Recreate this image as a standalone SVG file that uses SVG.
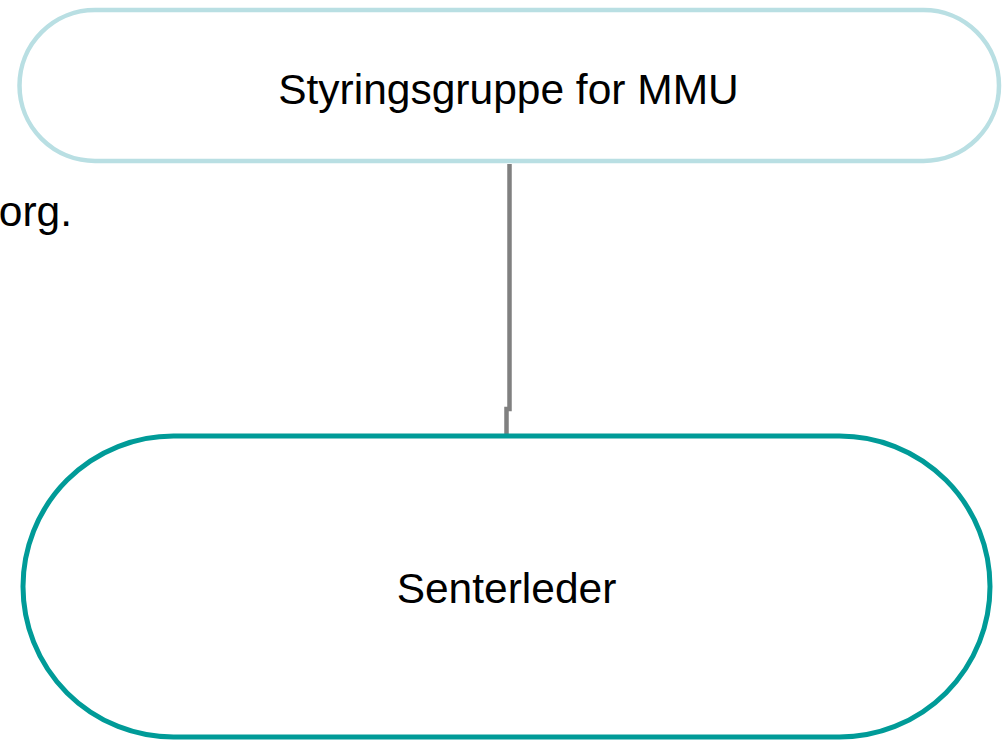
<svg xmlns="http://www.w3.org/2000/svg" width="1003" height="740" viewBox="0 0 1003 740">
<style>
.lbl{font-family:"Liberation Sans",Arial,sans-serif;font-size:42.5px;fill:#000}
.node{fill:#fff}
</style>
<rect width="1003" height="740" fill="#fff"/>
<text class="lbl" x="72" y="226" text-anchor="end">org.</text>
<g id="connectors">
<path d="M509.5,164 V409 H506.5 V436" fill="none" stroke="#808080" stroke-width="4.5"/>
</g>
<g id="node-styringsgruppe">
<rect class="node" x="19.5" y="10" width="979.5" height="151" rx="75.5" ry="75.5" stroke="#b9dfe3" stroke-width="4.5"/>
<text class="lbl" x="508.5" y="104" text-anchor="middle">Styringsgruppe for MMU</text>
</g>
<g id="node-senterleder">
<rect class="node" x="23" y="436" width="967" height="301" rx="150.5" ry="150.5" stroke="#009b98" stroke-width="5"/>
<text class="lbl" x="506.5" y="603" text-anchor="middle">Senterleder</text>
</g>
</svg>
